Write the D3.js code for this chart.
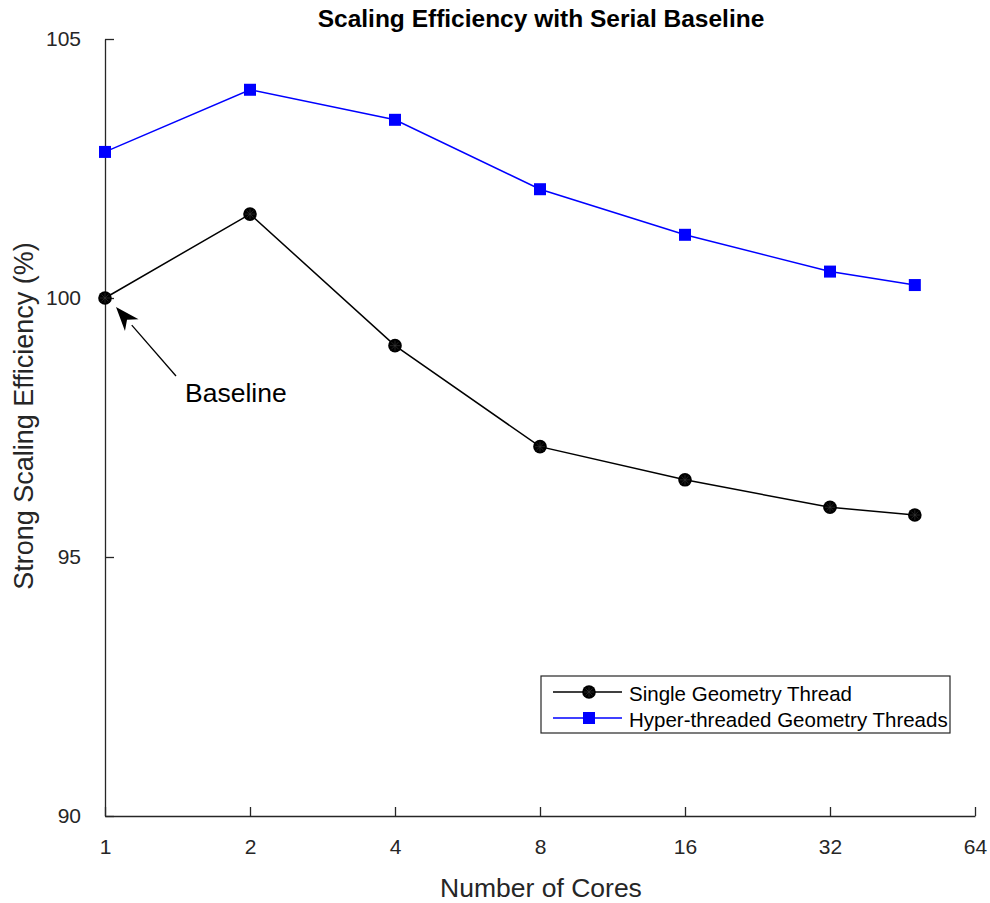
<!DOCTYPE html>
<html>
<head>
<meta charset="utf-8">
<script src="https://cdn.jsdelivr.net/npm/d3@7"></script>
<style>
  body { margin: 0; background: #fff; }
  svg { display: block; font-family: "Liberation Sans", Arial, sans-serif; }
</style>
</head>
<body>
<svg width="990" height="903"></svg>
<script>
// chart data
var cores = [1, 2, 4, 8, 16, 32, 48];
var singleThread = [100.0, 101.62, 99.08, 97.13, 96.49, 95.96, 95.81];
var hyperThreads = [102.82, 104.02, 103.44, 102.10, 101.22, 100.51, 100.25];
var xTicks = [1, 2, 4, 8, 16, 32, 64];
var yTicks = [90, 95, 100, 105];
var seriesNames = ["Single Geometry Thread", "Hyper-threaded Geometry Threads"];

var svg = d3.select("svg");
var plotLeft = 105, plotRight = 975, plotTop = 39, plotBottom = 816;

var x = d3.scaleLog().base(2).domain([1, 64]).range([plotLeft, plotRight]);
var y = d3.scaleLinear().domain([90, 105]).range([plotBottom, plotTop]);

// axes, ticks pointing inward like matlab
var xAxis = svg.append("g")
    .attr("transform", "translate(0," + plotBottom + ")")
    .call(d3.axisBottom(x).tickValues(xTicks).tickFormat(d3.format("d"))
        .tickSizeInner(-9).tickSizeOuter(0).tickPadding(23));
var yAxis = svg.append("g")
    .attr("transform", "translate(" + plotLeft + ",0)")
    .call(d3.axisLeft(y).tickValues(yTicks).tickFormat(d3.format("d"))
        .tickSizeInner(-9).tickSizeOuter(0).tickPadding(24));

[xAxis, yAxis].forEach(function(a) {
    a.select(".domain").attr("stroke", "#262626").attr("stroke-width", 1.3);
    a.selectAll(".tick line").attr("stroke", "#262626").attr("stroke-width", 1.3);
    a.selectAll(".tick text").attr("fill", "#262626")
        .attr("font-size", 21).attr("font-family", "Liberation Sans, Arial, sans-serif");
});

// title + axis labels
svg.append("text")
    .attr("x", 541).attr("y", 27)
    .attr("text-anchor", "middle")
    .attr("font-size", 24.5).attr("font-weight", "bold")
    .attr("fill", "#000")
    .text("Scaling Efficiency with Serial Baseline");

svg.append("text")
    .attr("x", 541).attr("y", 897)
    .attr("text-anchor", "middle")
    .attr("font-size", 26.5)
    .attr("fill", "#262626")
    .text("Number of Cores");

svg.append("text")
    .attr("transform", "translate(33,416) rotate(-90)")
    .attr("text-anchor", "middle")
    .attr("font-size", 27)
    .attr("fill", "#262626")
    .text("Strong Scaling Efficiency (%)");

// lines
var line = d3.line()
    .x(function(d, i) { return x(cores[i]); })
    .y(function(d) { return y(d); });

svg.append("path").datum(singleThread)
    .attr("d", line).attr("fill", "none")
    .attr("stroke", "#000").attr("stroke-width", 1.5);
svg.append("path").datum(hyperThreads)
    .attr("d", line).attr("fill", "none")
    .attr("stroke", "#0000ff").attr("stroke-width", 1.5);

// markers
function drawCircle(g, cx, cy) {
    g.append("circle").attr("cx", cx).attr("cy", cy).attr("r", 6.8)
        .attr("fill", "#000");
    // faint asterisk inside, as in the original
    for (var k = 0; k < 4; k++) {
        var a = k * Math.PI / 4;
        g.append("line")
            .attr("x1", cx - 5 * Math.cos(a)).attr("y1", cy - 5 * Math.sin(a))
            .attr("x2", cx + 5 * Math.cos(a)).attr("y2", cy + 5 * Math.sin(a))
            .attr("stroke", "#3a3a3a").attr("stroke-width", 0.6);
    }
}
function drawSquare(g, cx, cy) {
    g.append("rect").attr("x", cx - 6).attr("y", cy - 6)
        .attr("width", 12).attr("height", 12).attr("fill", "#0000ff");
}

var marks = svg.append("g");
singleThread.forEach(function(d, i) { drawCircle(marks, x(cores[i]), y(d)); });
hyperThreads.forEach(function(d, i) { drawSquare(marks, x(cores[i]), y(d)); });

// Baseline annotation with arrow
var tip = [x(1) + 11, y(100) + 9];
var tail = [176, 376];
var ang = Math.atan2(tip[1] - tail[1], tip[0] - tail[0]);
var hl = 24, hw = 9;
var base = [tip[0] - hl * Math.cos(ang), tip[1] - hl * Math.sin(ang)];
svg.append("line")
    .attr("x1", tail[0]).attr("y1", tail[1])
    .attr("x2", base[0]).attr("y2", base[1])
    .attr("stroke", "#000").attr("stroke-width", 1.3);
svg.append("path")
    .attr("d", "M" + tip[0] + "," + tip[1] +
        "L" + (base[0] + hw * Math.sin(ang)) + "," + (base[1] - hw * Math.cos(ang)) +
        "L" + (tip[0] - 0.7 * hl * Math.cos(ang)) + "," + (tip[1] - 0.7 * hl * Math.sin(ang)) +
        "L" + (base[0] - hw * Math.sin(ang)) + "," + (base[1] + hw * Math.cos(ang)) + "Z")
    .attr("fill", "#000");
svg.append("text")
    .attr("x", 185).attr("y", 402)
    .attr("font-size", 26.5).attr("fill", "#000")
    .text("Baseline");

// legend
var lg = svg.append("g");
lg.append("rect")
    .attr("x", 541).attr("y", 676).attr("width", 409).attr("height", 57)
    .attr("fill", "#fff").attr("stroke", "#262626").attr("stroke-width", 1.2);
var rows = [692, 718];
lg.append("line").attr("x1", 553).attr("x2", 622).attr("y1", rows[0]).attr("y2", rows[0])
    .attr("stroke", "#000").attr("stroke-width", 1.5);
drawCircle(lg, 589, rows[0]);
lg.append("line").attr("x1", 553).attr("x2", 622).attr("y1", rows[1]).attr("y2", rows[1])
    .attr("stroke", "#0000ff").attr("stroke-width", 1.5);
drawSquare(lg, 589, rows[1]);
lg.selectAll("text.lab").data(seriesNames).enter().append("text")
    .attr("class", "lab")
    .attr("x", 629)
    .attr("y", function(d, i) { return rows[i] + 9; })
    .attr("font-size", 20.5).attr("fill", "#000")
    .text(function(d) { return d; });
</script>
</body>
</html>
